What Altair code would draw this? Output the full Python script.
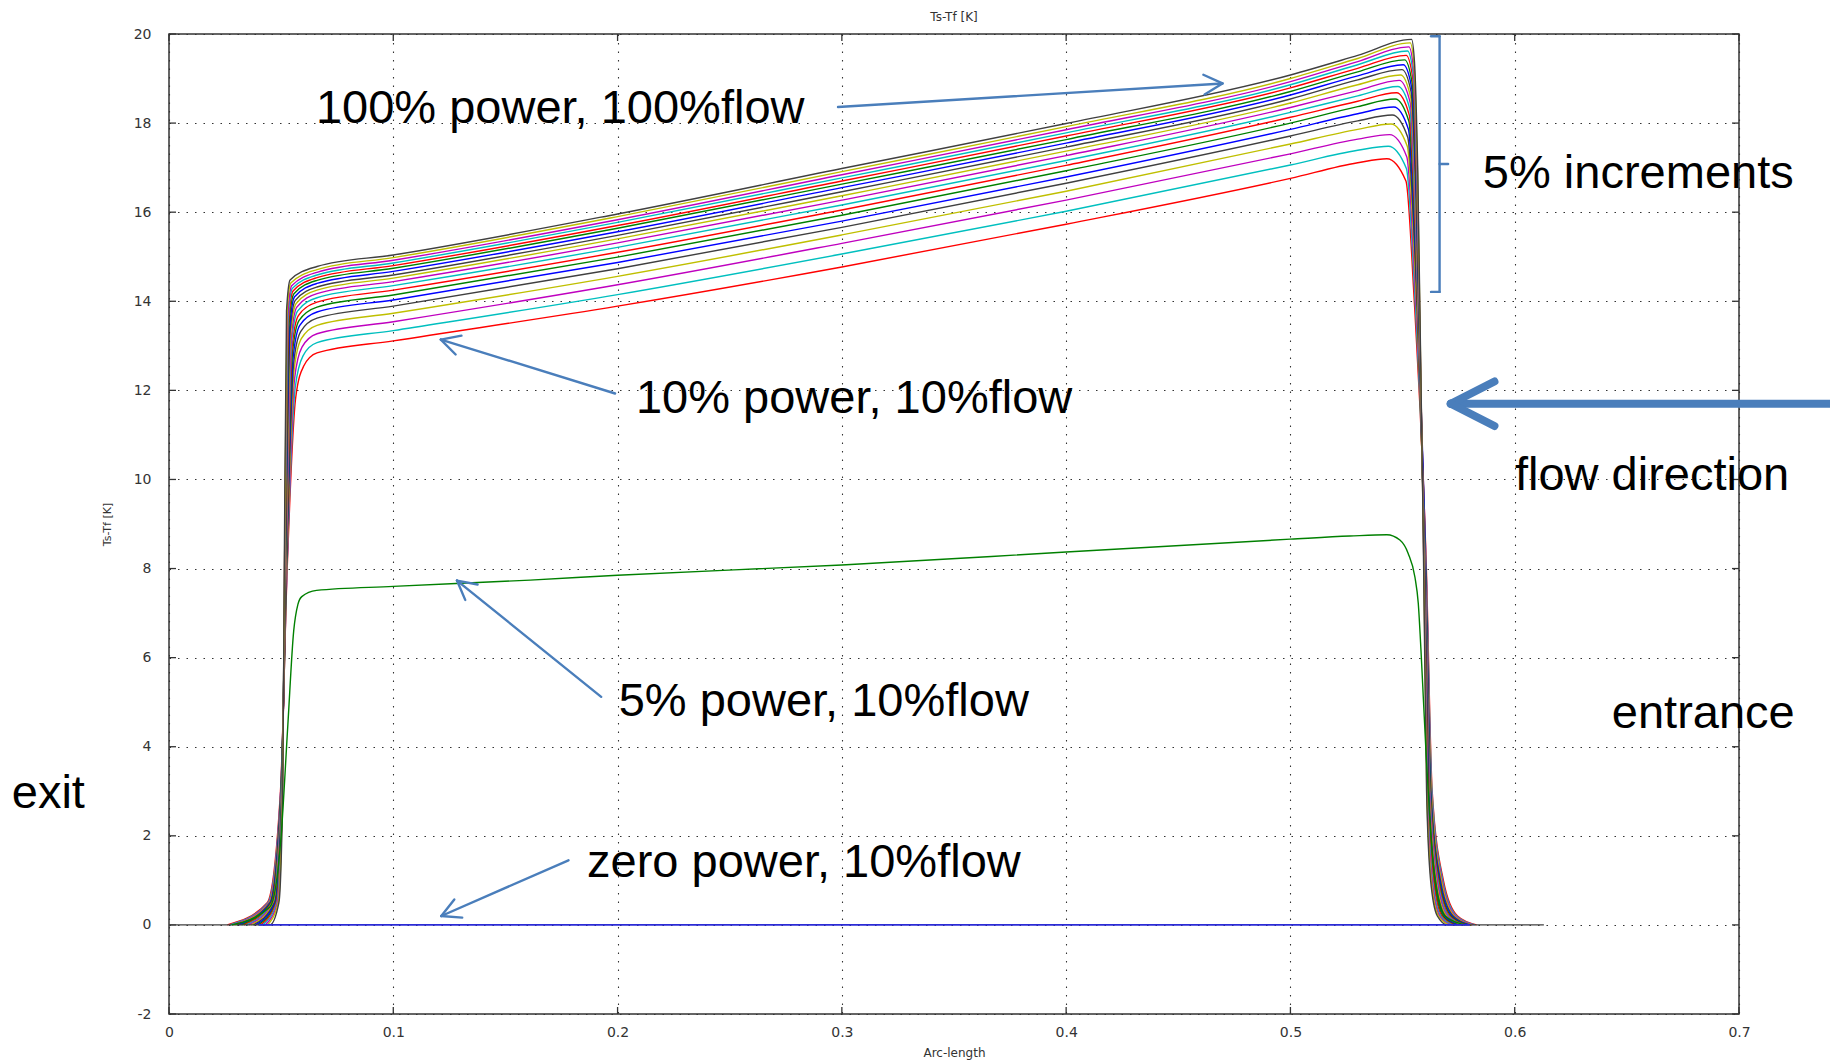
import math
import altair as alt
import pandas as pd

# ------------------------------------------------------------------
# Data
# ------------------------------------------------------------------
POWER = [10, 15, 20, 25, 30, 35, 40, 45, 50, 55, 60, 65, 70, 75, 80, 85, 90, 95, 100]
COLOR_CYCLE = ["#ff0000", "#00bfbf", "#bf00bf", "#bfbf00", "#404040", "#0000ff", "#008000"]

# left rise: x where each curve reaches the levels in RISE_LEVELS
RISE_LEVELS = [0.0, 0.5, 3.0, 8.0]
X_START = [0.0260, 0.0271, 0.0281, 0.0292, 0.0302, 0.0313, 0.0323, 0.0334, 0.0344, 0.0355,
           0.0366, 0.0376, 0.0387, 0.0397, 0.0408, 0.0418, 0.0429, 0.0439, 0.0450]
X_R05 = [0.0438, 0.0441, 0.0444, 0.0447, 0.0450, 0.0452, 0.0455, 0.0458, 0.0461, 0.0464,
         0.0467, 0.0470, 0.0473, 0.0476, 0.0478, 0.0481, 0.0484, 0.0487, 0.0490]
X_R3 = [0.0497, 0.0498, 0.0498, 0.0499, 0.0499, 0.0500, 0.0500, 0.0501, 0.0501, 0.0502,
        0.0503, 0.0503, 0.0504, 0.0504, 0.0505, 0.0505, 0.0506, 0.0506, 0.0507]
X_R8 = [0.0527, 0.0526, 0.0526, 0.0525, 0.0524, 0.0523, 0.0523, 0.0522, 0.0521, 0.0521,
        0.0520, 0.0519, 0.0518, 0.0518, 0.0517, 0.0516, 0.0515, 0.0515, 0.0514]
# shoulder
X_RS1 = [0.0565, 0.0563, 0.0560, 0.0558, 0.0556, 0.0554, 0.0551, 0.0549, 0.0547, 0.0545,
         0.0542, 0.0540, 0.0538, 0.0535, 0.0533, 0.0531, 0.0529, 0.0526, 0.0524]
Y_RS1 = [11.84, 12.07, 12.27, 12.46, 12.62, 12.76, 12.87, 12.98, 13.08, 13.17,
         13.25, 13.32, 13.40, 13.47, 13.53, 13.59, 13.65, 13.71, 13.78]
X_RS03 = [0.0600, 0.0597, 0.0593, 0.0590, 0.0587, 0.0583, 0.0580, 0.0577, 0.0573, 0.0570,
          0.0567, 0.0563, 0.0560, 0.0557, 0.0553, 0.0550, 0.0547, 0.0543, 0.0540]
Y_RS03 = [12.54, 12.77, 12.97, 13.16, 13.32, 13.46, 13.57, 13.68, 13.78, 13.87,
          13.95, 14.02, 14.10, 14.17, 14.23, 14.29, 14.35, 14.41, 14.48]

# plateau values at fixed arc-length positions
PLATEAU_X = [0.066, 0.1, 0.2, 0.3, 0.4, 0.5, 0.53]
V066 = [12.84, 13.07, 13.27, 13.46, 13.62, 13.76, 13.87, 13.98, 14.08, 14.17,
        14.25, 14.32, 14.40, 14.47, 14.53, 14.59, 14.65, 14.71, 14.78]
V010 = [13.11, 13.34, 13.54, 13.73, 13.89, 14.03, 14.14, 14.25, 14.35, 14.44,
        14.52, 14.59, 14.67, 14.74, 14.80, 14.86, 14.92, 14.98, 15.04]
V020 = [13.89, 14.15, 14.37, 14.56, 14.73, 14.87, 14.99, 15.10, 15.21, 15.31,
        15.40, 15.48, 15.56, 15.64, 15.70, 15.77, 15.83, 15.90, 15.96]
V030 = [14.77, 15.06, 15.30, 15.49, 15.66, 15.80, 15.93, 16.05, 16.16, 16.27,
        16.37, 16.46, 16.55, 16.63, 16.70, 16.77, 16.84, 16.91, 16.98]
V040 = [15.73, 16.02, 16.27, 16.47, 16.65, 16.79, 16.93, 17.05, 17.16, 17.27,
        17.37, 17.46, 17.55, 17.63, 17.71, 17.78, 17.85, 17.92, 17.99]
V050 = [16.76, 17.06, 17.31, 17.53, 17.71, 17.86, 18.00, 18.13, 18.24, 18.35,
        18.45, 18.54, 18.63, 18.71, 18.79, 18.86, 18.93, 19.00, 19.08]
V053 = [17.11, 17.39, 17.64, 17.86, 18.05, 18.21, 18.37, 18.49, 18.61, 18.73,
        18.86, 18.97, 19.06, 19.15, 19.23, 19.31, 19.38, 19.45, 19.52]

# peak and right-hand fall
X_PEAK = [0.5430, 0.5436, 0.5442, 0.5448, 0.5454, 0.5461, 0.5467, 0.5473, 0.5479, 0.5485,
          0.5491, 0.5497, 0.5503, 0.5509, 0.5516, 0.5522, 0.5528, 0.5534, 0.5540]
PEAK = [17.20, 17.48, 17.74, 17.98, 18.18, 18.36, 18.54, 18.68, 18.82, 18.96,
        19.08, 19.20, 19.31, 19.42, 19.52, 19.62, 19.71, 19.80, 19.88]
X_FP05 = [0.5515, 0.5517, 0.5519, 0.5521, 0.5523, 0.5526, 0.5528, 0.5530, 0.5532, 0.5534,
          0.5536, 0.5538, 0.5540, 0.5542, 0.5545, 0.5547, 0.5549, 0.5551, 0.5553]
Y_FP05 = [16.70, 16.98, 17.24, 17.48, 17.68, 17.86, 18.04, 18.18, 18.32, 18.46,
          18.58, 18.70, 18.81, 18.92, 19.02, 19.12, 19.21, 19.30, 19.38]
X_FP3 = [0.5550, 0.5551, 0.5552, 0.5553, 0.5554, 0.5555, 0.5556, 0.5557, 0.5558, 0.5559,
         0.5560, 0.5561, 0.5562, 0.5563, 0.5564, 0.5565, 0.5566, 0.5567, 0.5568]
Y_FP3 = [14.20, 14.48, 14.74, 14.98, 15.18, 15.36, 15.54, 15.68, 15.82, 15.96,
         16.08, 16.20, 16.31, 16.42, 16.52, 16.62, 16.71, 16.80, 16.88]
FALL_LEVELS = [8.0, 3.0, 1.0, 0.2, 0.0]
X_F8 = [0.5606, 0.5605, 0.5605, 0.5604, 0.5603, 0.5603, 0.5602, 0.5601, 0.5601, 0.5600,
        0.5599, 0.5599, 0.5598, 0.5597, 0.5597, 0.5596, 0.5595, 0.5595, 0.5594]
X_F3 = [0.5632, 0.5631, 0.5629, 0.5628, 0.5626, 0.5625, 0.5624, 0.5622, 0.5621, 0.5620,
        0.5618, 0.5617, 0.5615, 0.5614, 0.5613, 0.5611, 0.5610, 0.5608, 0.5607]
X_F1 = [0.5682, 0.5679, 0.5676, 0.5673, 0.5669, 0.5666, 0.5663, 0.5660, 0.5657, 0.5654,
        0.5650, 0.5647, 0.5644, 0.5641, 0.5638, 0.5634, 0.5631, 0.5628, 0.5625]
X_F02 = [0.5745, 0.5740, 0.5735, 0.5730, 0.5725, 0.5720, 0.5715, 0.5710, 0.5705, 0.5700,
         0.5695, 0.5690, 0.5685, 0.5680, 0.5675, 0.5670, 0.5665, 0.5660, 0.5655]
X_END = [0.5830, 0.5823, 0.5816, 0.5808, 0.5801, 0.5794, 0.5787, 0.5779, 0.5772, 0.5765,
         0.5758, 0.5751, 0.5743, 0.5736, 0.5729, 0.5722, 0.5714, 0.5707, 0.5700]
# the 100% curve carries a flat zero segment over the whole arc
FULL_LINE_START = 0.0
FULL_LINE_END = 0.613

# 5% power, 10% flow (green)
GREEN_X = [0.028, 0.045, 0.050, 0.053, 0.0556, 0.0575, 0.0592, 0.0658, 0.1, 0.161, 0.2, 0.3, 0.4,
           0.5, 0.5265, 0.543, 0.5488, 0.5525, 0.5555, 0.557, 0.5582, 0.5593, 0.5604, 0.562,
           0.5645, 0.569, 0.578]
GREEN_Y = [0.0, 0.4, 2.0, 4.5, 6.6, 7.2, 7.37, 7.51, 7.60, 7.74, 7.85, 8.08, 8.37,
           8.66, 8.73, 8.76, 8.64, 8.34, 7.81, 7.22, 6.17, 5.05, 3.93, 2.5,
           1.0, 0.2, 0.0]
# zero power, 10% flow (blue)
ZERO_X = [0.040, 0.580]
ZERO_Y = [0.0, 0.0]

X_TICKS = [0, 0.1, 0.2, 0.3, 0.4, 0.5, 0.6, 0.7]
Y_TICKS = [-2, 0, 2, 4, 6, 8, 10, 12, 14, 16, 18, 20]

# annotations (data coordinates)
ANN_TEXT = ["100% power, 100%flow", "5% increments", "10% power, 10%flow", "flow direction",
            "5% power, 10%flow", "entrance", "exit", "zero power, 10%flow"]
ANN_X = [0.0655, 0.5858, 0.2082, 0.6001, 0.2005, 0.6433, -0.0701, 0.1864]
ANN_Y = [18.00, 16.54, 11.50, 9.76, 4.70, 4.43, 2.62, 1.08]

ARROW_TAIL_X = [0.2983, 0.1989, 0.1927, 0.1781]
ARROW_TAIL_Y = [18.36, 11.93, 5.12, 1.45]
ARROW_TIP_X = [0.4697, 0.1212, 0.1284, 0.1214]
ARROW_TIP_Y = [18.89, 13.14, 7.73, 0.20]

FLOW_TAIL = (0.7406, 11.70)
FLOW_TIP = (0.5715, 11.70)

BRACKET_X = 0.5665
BRACKET_SERIF_X = 0.5627
BRACKET_MID_X = 0.5703
BRACKET_TOP = 19.95
BRACKET_BOTTOM = 14.21
BRACKET_MID = 17.08

# ------------------------------------------------------------------
# Layout
# ------------------------------------------------------------------
W, H = 1570, 980
PX_X = W / 0.7
PX_Y = H / 22.0
ANN_BLUE = "#4a7ebb"

X_SCALE = alt.Scale(domain=[0, 0.7], nice=False, zero=False)
Y_SCALE = alt.Scale(domain=[-2, 20], nice=False, zero=False)

X_AXIS = alt.Axis(values=X_TICKS, format="~g", title="Arc-length", grid=True,
                  gridColor="#333333", gridDash=[1.5, 7], gridWidth=1.1, domain=False,
                  ticks=False, tickSize=0, labelFont="DejaVu Sans", labelFontSize=14,
                  labelColor="#333333", labelPadding=11, labelFlush=False,
                  titleFont="DejaVu Sans",
                  titleFontSize=12, titleFontWeight="normal", titleColor="#333333",
                  titleX=W / 2, titleY=38, titleAlign="center", titleBaseline="middle")
Y_AXIS = alt.Axis(values=Y_TICKS, labelExpr="datum.value < 0 ? '-' + (-datum.value) : '' + datum.value",
                  title="Ts-Tf [K]", grid=True,
                  gridColor="#333333", gridDash=[1.5, 7], gridWidth=1.1, domain=False,
                  ticks=False, tickSize=0, labelFont="DejaVu Sans", labelFontSize=14,
                  labelColor="#333333", labelPadding=18, labelFlush=False,
                  titleFont="DejaVu Sans",
                  titleFontSize=11, titleFontWeight="normal", titleColor="#333333",
                  titleX=-62, titleY=H / 2, titleAngle=270, titleAlign="center",
                  titleBaseline="middle")


def xenc(field="x"):
    return alt.X(f"{field}:Q", scale=X_SCALE, axis=X_AXIS)


def yenc(field="y"):
    return alt.Y(f"{field}:Q", scale=Y_SCALE, axis=Y_AXIS)


# ------------------------------------------------------------------
# Curves
# ------------------------------------------------------------------
rows = []
names = []
colors = []
for i, p in enumerate(POWER):
    name = f"{p:03d}% power"
    names.append(name)
    colors.append(COLOR_CYCLE[i % len(COLOR_CYCLE)])
    xs = [X_START[i], X_R05[i], X_R3[i], X_R8[i], X_RS1[i], X_RS03[i]] + PLATEAU_X + \
         [X_PEAK[i], X_FP05[i], X_FP3[i], X_F8[i], X_F3[i], X_F1[i], X_F02[i], X_END[i]]
    ys = RISE_LEVELS + [Y_RS1[i], Y_RS03[i],
                        V066[i], V010[i], V020[i], V030[i], V040[i], V050[i], V053[i],
                        PEAK[i], Y_FP05[i], Y_FP3[i]] + FALL_LEVELS
    if p == 100:
        xs = [FULL_LINE_START] + xs + [FULL_LINE_END]
        ys = [0.0] + ys + [0.0]
    for x, y in zip(xs, ys):
        rows.append({"x": x, "y": y, "series": name})

green_name = "005% power"
for x, y in zip(GREEN_X, GREEN_Y):
    rows.append({"x": x, "y": y, "series": green_name})

curves = pd.DataFrame(rows)
all_names = [green_name] + names
all_colors = ["#008000"] + colors

fan = alt.Chart(curves).mark_line(interpolate="monotone", strokeWidth=1.4).encode(
    x=xenc(), y=yenc(),
    color=alt.Color("series:N", scale=alt.Scale(domain=all_names, range=all_colors), legend=None),
    detail="series:N",
)

zero_df = pd.DataFrame({"x": ZERO_X, "y": ZERO_Y})
zero_line = alt.Chart(zero_df).mark_line(color="#2b2bd6", strokeWidth=1.6).encode(x=xenc(), y=yenc())

# ------------------------------------------------------------------
# Inward tick marks on all four sides
# ------------------------------------------------------------------
yt = pd.DataFrame({"y": Y_TICKS})
xt = pd.DataFrame({"x": X_TICKS})
tick_style = dict(color="#333333", strokeWidth=1.3)
left_ticks = alt.Chart(yt).mark_rule(**tick_style).encode(y=yenc(), x=alt.value(0), x2=alt.value(7))
right_ticks = alt.Chart(yt).mark_rule(**tick_style).encode(y=yenc(), x=alt.value(W - 7), x2=alt.value(W))
bottom_ticks = alt.Chart(xt).mark_rule(**tick_style).encode(x=xenc(), y=alt.value(H - 7), y2=alt.value(H))
top_ticks = alt.Chart(xt).mark_rule(**tick_style).encode(x=xenc(), y=alt.value(0), y2=alt.value(7))

# ------------------------------------------------------------------
# Annotation arrows and bracket
# ------------------------------------------------------------------


def arrow_segments(x0, y0, x1, y1, head_len, head_deg):
    dxp = (x0 - x1) * PX_X
    dyp = (y0 - y1) * PX_Y
    L = math.hypot(dxp, dyp)
    ux, uy = dxp / L, dyp / L
    segs = [(x0, y0, x1, y1)]
    for s in (1, -1):
        a = math.radians(head_deg) * s
        wx = ux * math.cos(a) - uy * math.sin(a)
        wy = ux * math.sin(a) + uy * math.cos(a)
        segs.append((x1, y1, x1 + wx * head_len / PX_X, y1 + wy * head_len / PX_Y))
    return segs


thin = []
for x0, y0, x1, y1 in zip(ARROW_TAIL_X, ARROW_TAIL_Y, ARROW_TIP_X, ARROW_TIP_Y):
    thin += arrow_segments(x0, y0, x1, y1, 21, 28)
thin += [
    (BRACKET_X, BRACKET_TOP, BRACKET_X, BRACKET_BOTTOM),
    (BRACKET_SERIF_X, BRACKET_TOP, BRACKET_X, BRACKET_TOP),
    (BRACKET_SERIF_X, BRACKET_BOTTOM, BRACKET_X, BRACKET_BOTTOM),
    (BRACKET_X, BRACKET_MID, BRACKET_MID_X, BRACKET_MID),
]
thin_df = pd.DataFrame(thin, columns=["x", "y", "x2", "y2"])
thin_rules = alt.Chart(thin_df).mark_rule(color=ANN_BLUE, strokeWidth=2.4, strokeCap="round").encode(
    x=xenc(), y=yenc(), x2="x2:Q", y2="y2:Q")

thick = arrow_segments(FLOW_TAIL[0], FLOW_TAIL[1], FLOW_TIP[0], FLOW_TIP[1], 49, 27)
thick_df = pd.DataFrame(thick, columns=["x", "y", "x2", "y2"])
thick_rules = alt.Chart(thick_df).mark_rule(color=ANN_BLUE, strokeWidth=8, strokeCap="round").encode(
    x=xenc(), y=yenc(), x2="x2:Q", y2="y2:Q")

ann_df = pd.DataFrame({"x": ANN_X, "y": ANN_Y, "t": ANN_TEXT})
ann_text = alt.Chart(ann_df).mark_text(align="left", baseline="alphabetic", font="Liberation Sans",
                                       fontSize=47, color="#000000").encode(
    x=xenc(), y=yenc(), text="t:N")

title_df = pd.DataFrame({"x": [0.35], "y": [20.38], "t": ["Ts-Tf [K]"]})
title_text = alt.Chart(title_df).mark_text(align="center", baseline="middle", font="DejaVu Sans",
                                           fontSize=12, color="#333333").encode(
    x=xenc(), y=yenc(), text="t:N")

chart = alt.layer(
    left_ticks, right_ticks, bottom_ticks, top_ticks,
    fan, zero_line, thin_rules, thick_rules, ann_text, title_text,
).properties(
    width=W, height=H,
    autosize=alt.AutoSizeParams(type="none"),
    padding={"left": 169, "top": 34, "right": 91, "bottom": 46},
    background="white",
).configure_view(stroke="#333333", strokeWidth=1.5)

chart.save("out.html", embed_options={"renderer": "svg", "actions": False})
